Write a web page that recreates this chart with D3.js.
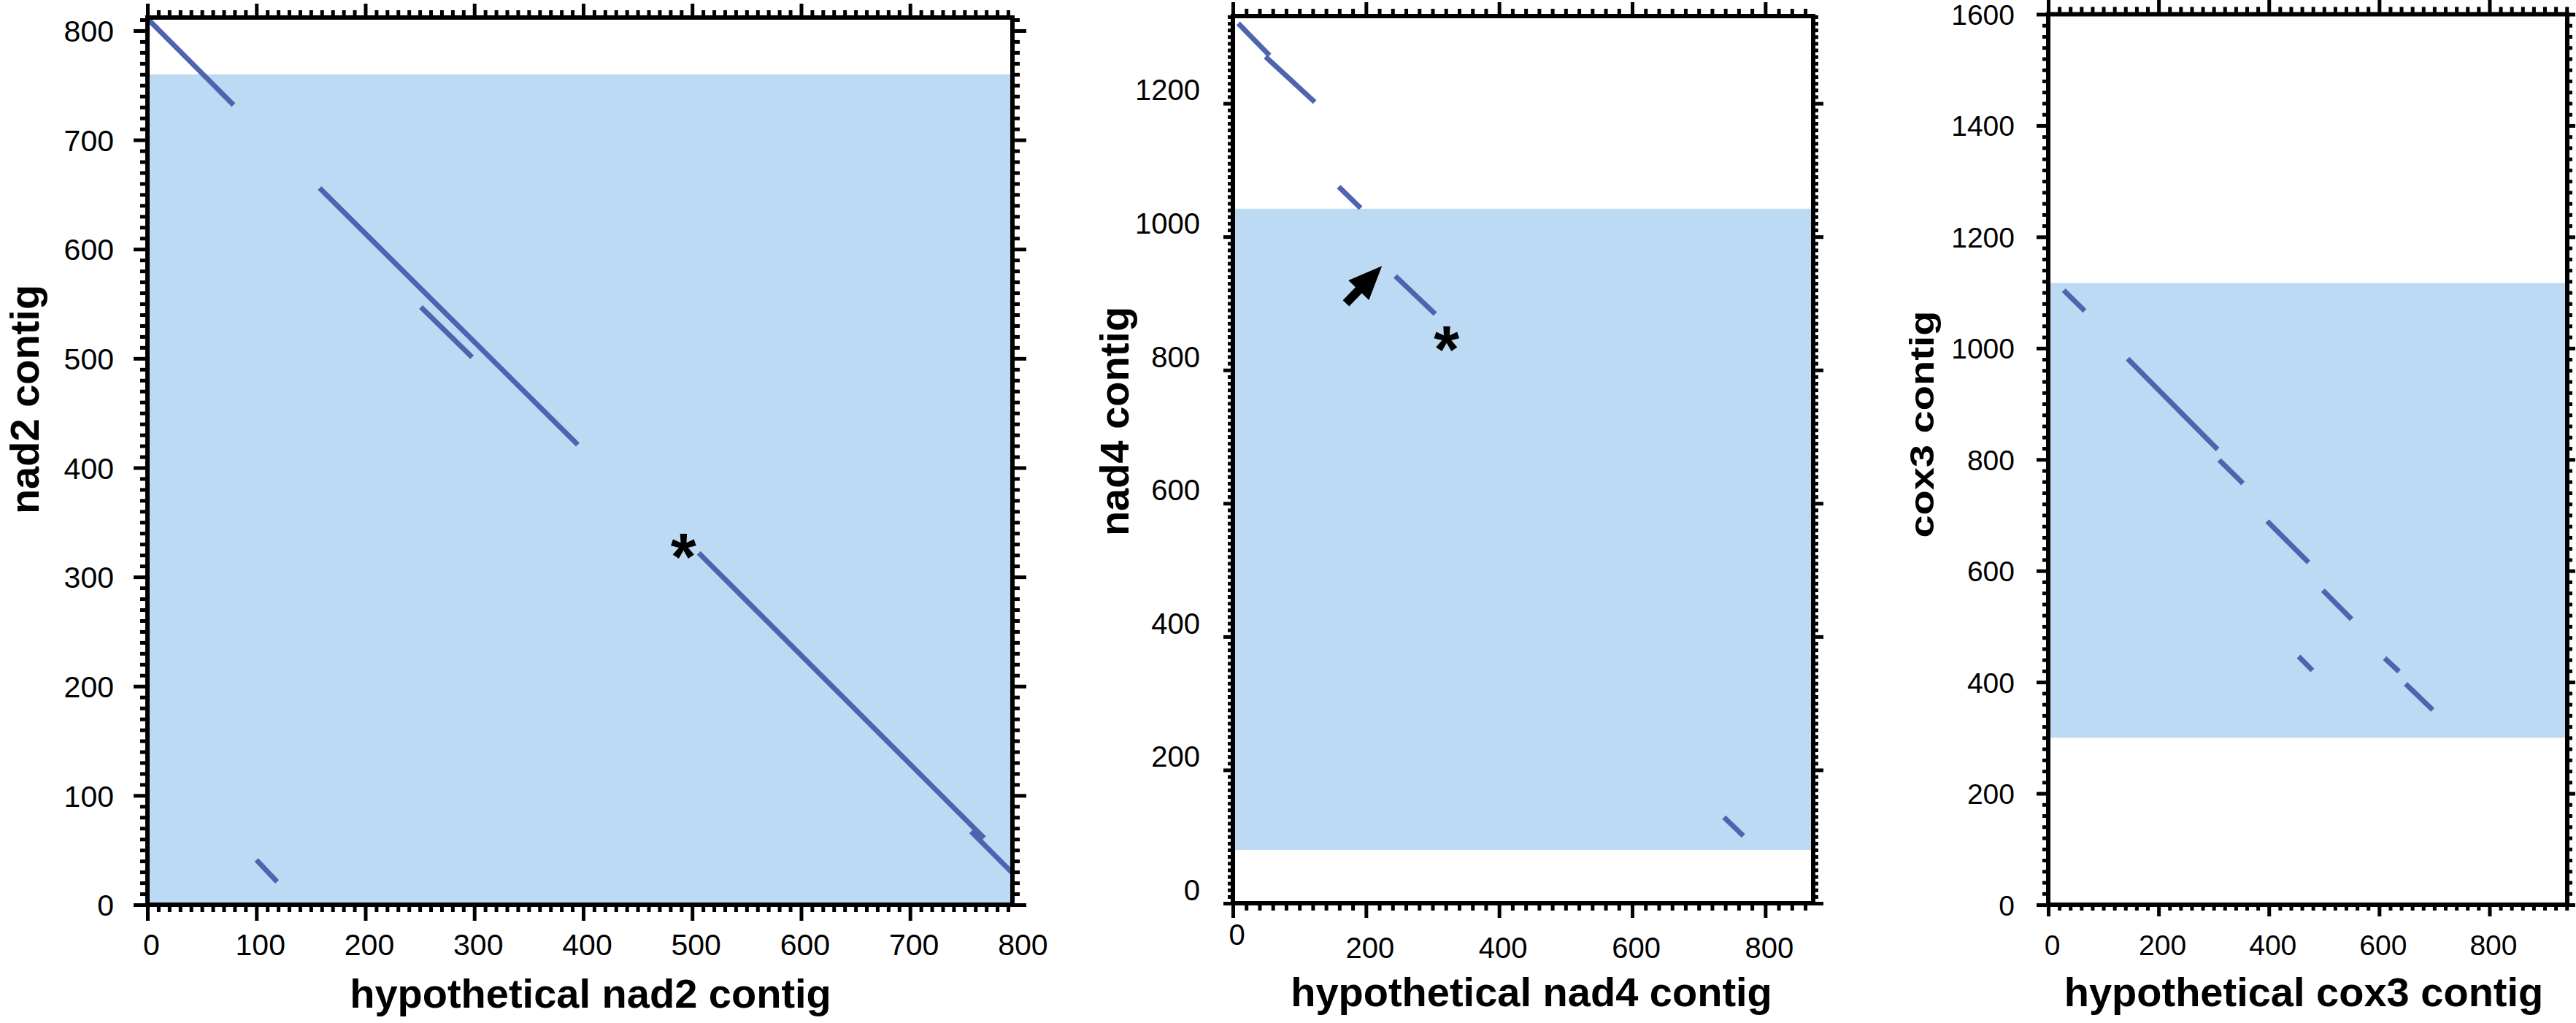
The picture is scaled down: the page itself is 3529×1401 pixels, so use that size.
<!DOCTYPE html>
<html><head><meta charset="utf-8">
<script src="https://cdn.jsdelivr.net/npm/d3@7"></script>
<style>
body{margin:0;background:#fff}
svg{display:block}
text{font-family:"Liberation Sans",Arial,Helvetica,sans-serif}
</style>
</head><body>
<svg id="c" width="3529" height="1401"></svg>
<script>
// ---------------- DATA ----------------
// segments: [x1, y1, x2, y2] in sequence coordinates
const nad2Segments = [[1,810,79,732],[158,656,395,421],[251,547,298,501],[100,41,119,21],[506,322,768,61],[756,67,794,29]];
const nad4Segments = [[8,1320,55,1272],[49,1270,123,1202],[159,1075,192,1043],[244,941,304,884],[738,129,767,101]];
const cox3Segments = [[28,1104,66,1067],[144,981,307,818],[310,799,353,757],[397,689,472,615],[498,565,550,513],[454,446,479,421],[610,443,636,419],[648,397,697,350]];

const nad2Band = [0,760];
const nad4Band = [80,1042];
const cox3Band = [300,1117];

const nad2XMax = 794, nad2YMax = 812;
const nad4XMax = 872, nad4YMax = 1331;
const cox3XMax = 941, cox3YMax = 1600;

const nad2XTicks = [0,100,200,300,400,500,600,700,800];
const nad2YTicks = [0,100,200,300,400,500,600,700,800];
const nad4XTicks = [0,200,400,600,800];
const nad4YTicks = [0,200,400,600,800,1000,1200];
const cox3XTicks = [0,200,400,600,800];
const cox3YTicks = [0,200,400,600,800,1000,1200,1400,1600];

const nad2MinorStep = [10,10];
const nad4MinorStep = [20,10];
const cox3MinorStep = [20,20];

const xTitles = ["hypothetical nad2 contig","hypothetical nad4 contig","hypothetical cox3 contig"];
const yTitles = ["nad2 contig","nad4 contig","cox3 contig"];

const nad2Asterisk = [492,331];
const nad4Asterisk = [321,852];
const nad4Arrow = [170,900,224,956]; // tail x,y -> tip x,y

// ---------------- STYLE / LAYOUT ----------------
const LINE = "#4e64ae", BAND = "#bcdaf4";
const panels = [
  {segs:nad2Segments, band:nad2Band, xMax:nad2XMax, yMax:nad2YMax, xTicks:nad2XTicks, yTicks:nad2YTicks, minor:nad2MinorStep,
   box:{l:202,r:1387,t:24,b:1239}, fs:41, xLblOff:54, yLblDy:0, lblGap:46,
   tk:{b:[22,10],t:[19,10],l:[19,10],r:[19,10]},
   xt:{x:809,y:1380}, yt:{x:53,y:547,k:1}, ast:nad2Asterisk, arrow:null},
  {segs:nad4Segments, band:nad4Band, xMax:nad4XMax, yMax:nad4YMax, xTicks:nad4XTicks, yTicks:nad4YTicks, minor:nad4MinorStep,
   box:{l:1689,r:2484,t:22,b:1237}, fs:40, xLblOff:60.6, yLblDy:-19, lblGap:45, zeroXOff:42.7,
   tk:{b:[20,10],t:[19,10],l:[13,7],r:[14,7]},
   xt:{x:2098,y:1378}, yt:{x:1546,y:577,k:1}, ast:nad4Asterisk, arrow:nad4Arrow},
  {segs:cox3Segments, band:cox3Band, xMax:cox3XMax, yMax:cox3YMax, xTicks:cox3XTicks, yTicks:cox3YTicks, minor:cox3MinorStep,
   box:{l:2806,r:3517,t:19.5,b:1239}, fs:39, xLblOff:54.5, yLblDy:0, lblGap:46,
   tk:{b:[16,8],t:[20,10],l:[16,8],r:[11,7]},
   xt:{x:3156,y:1378}, yt:{x:2649,y:581,k:0.84}, ast:null, arrow:null}
];

const svg = d3.select("#c");
svg.append("rect").attr("width",3529).attr("height",1401).attr("fill","#fff");

function minorVals(max, step, majors){
  return d3.range(0, max + 1e-6, step).filter(v => !majors.includes(v));
}
function styleTicks(sel){
  sel.select(".domain").remove();
  sel.selectAll(".tick line").attr("stroke","#000").attr("stroke-width",5);
  return sel;
}

panels.forEach((p, pi) => {
  const x = d3.scaleLinear().domain([0,p.xMax]).range([p.box.l,p.box.r]);
  const y = d3.scaleLinear().domain([0,p.yMax]).range([p.box.b,p.box.t]);
  const g = svg.append("g");

  // band
  g.append("rect")
    .attr("x",x(0)).attr("width",x(p.xMax)-x(0))
    .attr("y",y(p.band[1])).attr("height",y(p.band[0])-y(p.band[1]))
    .attr("fill",BAND);

  // segments
  g.selectAll("line.seg").data(p.segs).join("line").attr("class","seg")
    .attr("x1",d=>x(d[0])).attr("y1",d=>y(d[1]))
    .attr("x2",d=>x(d[2])).attr("y2",d=>y(d[3]))
    .attr("stroke",LINE).attr("stroke-width",7).attr("stroke-linecap","butt");

  // asterisk
  if(p.ast){
    g.append("text").attr("x",x(p.ast[0])).attr("y",y(p.ast[1])).attr("dy","0.56em")
      .attr("text-anchor","middle").attr("font-weight","bold").attr("font-size",90).text("*");
  }
  // arrow
  if(p.arrow){
    const tx=x(p.arrow[0]), ty=y(p.arrow[1]), hx=x(p.arrow[2]), hy=y(p.arrow[3]);
    const L=Math.hypot(hx-tx,hy-ty), ux=(hx-tx)/L, uy=(hy-ty)/L, nx=-uy, ny=ux;
    const hl=46, hw=19.5, sw=6;
    const bx=hx-ux*hl, by=hy-uy*hl;
    const pts=[[tx+nx*sw,ty+ny*sw],[bx+nx*sw,by+ny*sw],[bx+nx*hw,by+ny*hw],[hx,hy],[bx-nx*hw,by-ny*hw],[bx-nx*sw,by-ny*sw],[tx-nx*sw,ty-ny*sw]];
    g.append("path").attr("d","M"+pts.map(q=>q.join(",")).join("L")+"Z").attr("fill","#000");
  }

  // ticks
  const xMaj = p.xTicks.filter(v=>v<=p.xMax), yMaj = p.yTicks.filter(v=>v<=p.yMax);
  const xMin = minorVals(p.xMax,p.minor[0],xMaj), yMin = minorVals(p.yMax,p.minor[1],yMaj);
  const B=p.box;
  const mk = (gen, scale, vals, size, tr) =>
    styleTicks(g.append("g").attr("transform",tr).call(gen(scale).tickValues(vals).tickSize(size).tickSizeOuter(0).tickFormat("")));
  mk(d3.axisBottom,x,xMin,p.tk.b[1],`translate(0,${B.b})`);
  mk(d3.axisBottom,x,xMaj,p.tk.b[0],`translate(0,${B.b})`);
  mk(d3.axisTop,x,xMin,p.tk.t[1],`translate(0,${B.t})`);
  mk(d3.axisTop,x,xMaj,p.tk.t[0],`translate(0,${B.t})`);
  mk(d3.axisLeft,y,yMin,p.tk.l[1],`translate(${B.l},0)`);
  mk(d3.axisLeft,y,yMaj,p.tk.l[0],`translate(${B.l},0)`);
  mk(d3.axisRight,y,yMin,p.tk.r[1],`translate(${B.r},0)`);
  mk(d3.axisRight,y,yMaj,p.tk.r[0],`translate(${B.r},0)`);

  // frame
  g.append("rect").attr("x",B.l).attr("y",B.t).attr("width",B.r-B.l).attr("height",B.b-B.t)
    .attr("fill","none").attr("stroke","#000").attr("stroke-width",6);

  // tick labels
  const xl = g.append("g").attr("transform",`translate(0,${B.b})`)
    .call(d3.axisBottom(x).tickValues(p.xTicks).tickSize(0).tickSizeOuter(0).tickFormat(d3.format("d")));
  xl.select(".domain").remove(); xl.selectAll(".tick line").remove();
  xl.selectAll(".tick text").attr("font-size",p.fs).attr("fill","#000")
    .attr("y",d=> (d===0 && p.zeroXOff!==undefined) ? p.zeroXOff : p.xLblOff).attr("dy","0.36em").attr("dx",5);
  xl.attr("font-family",null).attr("font-size",null);

  const yl = g.append("g").attr("transform",`translate(${B.l},0)`)
    .call(d3.axisLeft(y).tickValues(p.yTicks).tickSize(0).tickSizeOuter(0).tickFormat(d3.format("d")));
  yl.select(".domain").remove(); yl.selectAll(".tick line").remove();
  yl.selectAll(".tick text").attr("font-size",p.fs).attr("fill","#000")
    .attr("x",-p.lblGap).attr("y",p.yLblDy).attr("dy","0.36em");
  yl.attr("font-family",null).attr("font-size",null);

  // titles
  g.append("text").attr("x",p.xt.x).attr("y",p.xt.y).attr("text-anchor","middle")
    .attr("font-weight","bold").attr("font-size",56).text(xTitles[pi]);
  g.append("text").attr("transform",`translate(${p.yt.x},${p.yt.y}) rotate(-90) scale(1,${p.yt.k})`)
    .attr("text-anchor","middle").attr("font-weight","bold").attr("font-size",56).text(yTitles[pi]);
});
</script>
</body></html>
